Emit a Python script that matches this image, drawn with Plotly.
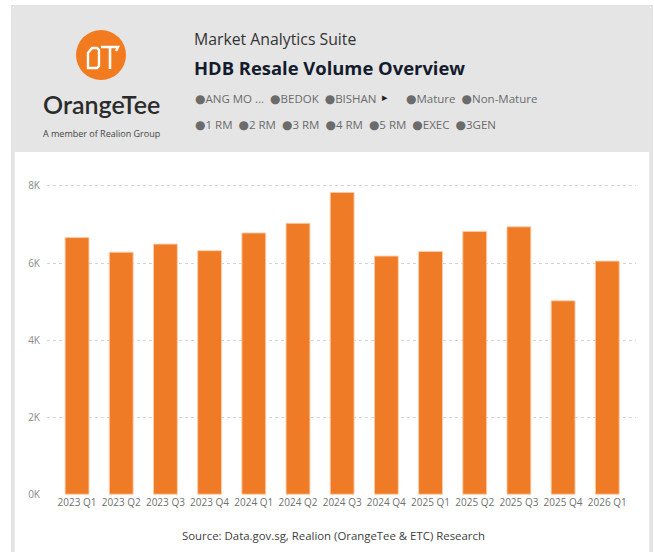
import plotly.graph_objects as go

# ---- data ----
quarters = ["2023 Q1", "2023 Q2", "2023 Q3", "2023 Q4", "2024 Q1", "2024 Q2", "2024 Q3",
            "2024 Q4", "2025 Q1", "2025 Q2", "2025 Q3", "2025 Q4", "2026 Q1"]
volumes = [6660, 6280, 6490, 6320, 6780, 7030, 7830, 6180, 6300, 6820, 6940, 5020, 6050]
y_tickvals = [0, 2000, 4000, 6000, 8000]
y_ticktext = ["0K", "2K", "4K", "6K", "8K"]
legend_row1a = ["ANG MO ...", "BEDOK", "BISHAN"]
legend_row1b = ["Mature", "Non-Mature"]
legend_row2 = ["1 RM", "2 RM", "3 RM", "4 RM", "5 RM", "EXEC", "3GEN"]

W, H = 654, 552
L, R, T, B = 47, 18, 184, 57
PW, PH = W - L - R, H - T - B

def px(x):
    return (x - L) / PW

def py(y):
    return (H - B - y) / PH

FONT = "Open Sans, Segoe UI, sans-serif"
ORANGE = "#F07B26"

fig = go.Figure()
fig.add_trace(go.Bar(
    x=list(range(len(quarters))), y=volumes,
    marker=dict(color=ORANGE, line=dict(color="rgba(255,205,170,0.9)", width=1)),
    hoverinfo="skip",
))

shapes = [
    dict(type="rect", xref="paper", yref="paper", x0=px(12), x1=px(652), y0=py(570), y1=py(6),
         line=dict(color="#e3e3e3", width=2), fillcolor="rgba(0,0,0,0)", layer="below"),
    dict(type="rect", xref="paper", yref="paper", x0=px(14), x1=px(650), y0=py(570), y1=py(8),
         line=dict(color="#cfcfcf", width=1), fillcolor="white", layer="below"),
    dict(type="rect", xref="paper", yref="paper", x0=px(14.5), x1=px(649.5), y0=py(152), y1=py(8.5),
         line=dict(width=0), fillcolor="#e5e5e5", layer="below"),
    dict(type="circle", xref="paper", yref="paper", x0=px(76), x1=px(126), y0=py(80), y1=py(30),
         line=dict(width=0), fillcolor="#F27A1F", layer="above"),
    dict(type="path", xref="paper", yref="paper",
         path=f"M {px(88)},{py(68)} L {px(88)},{py(53)} L {px(92)},{py(48)} L {px(97)},{py(48)} "
              f"L {px(99)},{py(50)} L {px(99)},{py(66)} L {px(97)},{py(68)} Z",
         line=dict(color="white", width=2.4), layer="above"),
    dict(type="path", xref="paper", yref="paper",
         path=f"M {px(101)},{py(47)} L {px(118)},{py(47)} L {px(116)},{py(51)}",
         line=dict(color="white", width=2.4), layer="above"),
    dict(type="path", xref="paper", yref="paper",
         path=f"M {px(110)},{py(47)} L {px(110)},{py(69)}",
         line=dict(color="white", width=2.6), layer="above"),
]

def ann(x, y, text, size, color, xanchor="left", bold=False, family=FONT, weight=None):
    if bold:
        text = f"<b>{text}</b>"
    f = dict(family=family, size=size, color=color)
    if weight:
        f["weight"] = weight
    return dict(xref="paper", yref="paper", x=px(x), y=py(y), text=text, showarrow=False,
                xanchor=xanchor, yanchor="middle", font=f)

BUL = '<span style="font-family:DejaVu Sans;font-size:12px">●</span>'

def legend_text(items):
    return "  ".join(BUL + it for it in items)

annotations = [
    ann(101, 104, "OrangeTee", 25, "#2b2b2b", xanchor="center", family="Lato, Inter, sans-serif", weight=600),
    ann(101, 133, "A member of Realion Group", 9, "#444444", xanchor="center"),
    ann(192, 39, "Market Analytics Suite", 15.8, "#333333"),
    ann(192, 67, "HDB Resale Volume Overview", 18.4, "#141b2d", bold=True),
    ann(193, 98, legend_text(legend_row1a), 11.5, "#6b6b6b"),
    ann(380, 97, "▸", 11, "#222222"),
    ann(404, 98, legend_text(legend_row1b), 11.5, "#6b6b6b"),
    ann(193, 125, legend_text(legend_row2), 11.5, "#6b6b6b"),
    ann(333, 535, "Source: Data.gov.sg, Realion (OrangeTee &amp; ETC) Research", 11.4, "#404040", xanchor="center"),
]

fig.update_layout(
    width=W, height=H,
    margin=dict(l=L, r=R, t=T, b=B),
    paper_bgcolor="white", plot_bgcolor="rgba(0,0,0,0)",
    showlegend=False,
    bargap=0.46,
    shapes=shapes,
    annotations=annotations,
    font=dict(family=FONT),
)
fig.update_xaxes(
    range=[-0.68, 12.65], tickmode="array", tickvals=list(range(len(quarters))), ticktext=quarters,
    showgrid=False, zeroline=False, showline=False, ticks="",
    tickfont=dict(size=10, color="#707070", family=FONT), tickangle=0, fixedrange=True,
)
fig.update_yaxes(
    range=[-20, 8050], tickmode="array", tickvals=y_tickvals, ticktext=y_ticktext,
    showgrid=True, gridcolor="#d4d4d4", griddash="dot", gridwidth=1,
    zeroline=False, showline=False, ticks="", ticklabelstandoff=6,
    tickfont=dict(size=10, color="#8a8a8a", family=FONT), fixedrange=True,
)

fig.write_html("out.html", config={"displayModeBar": False})
